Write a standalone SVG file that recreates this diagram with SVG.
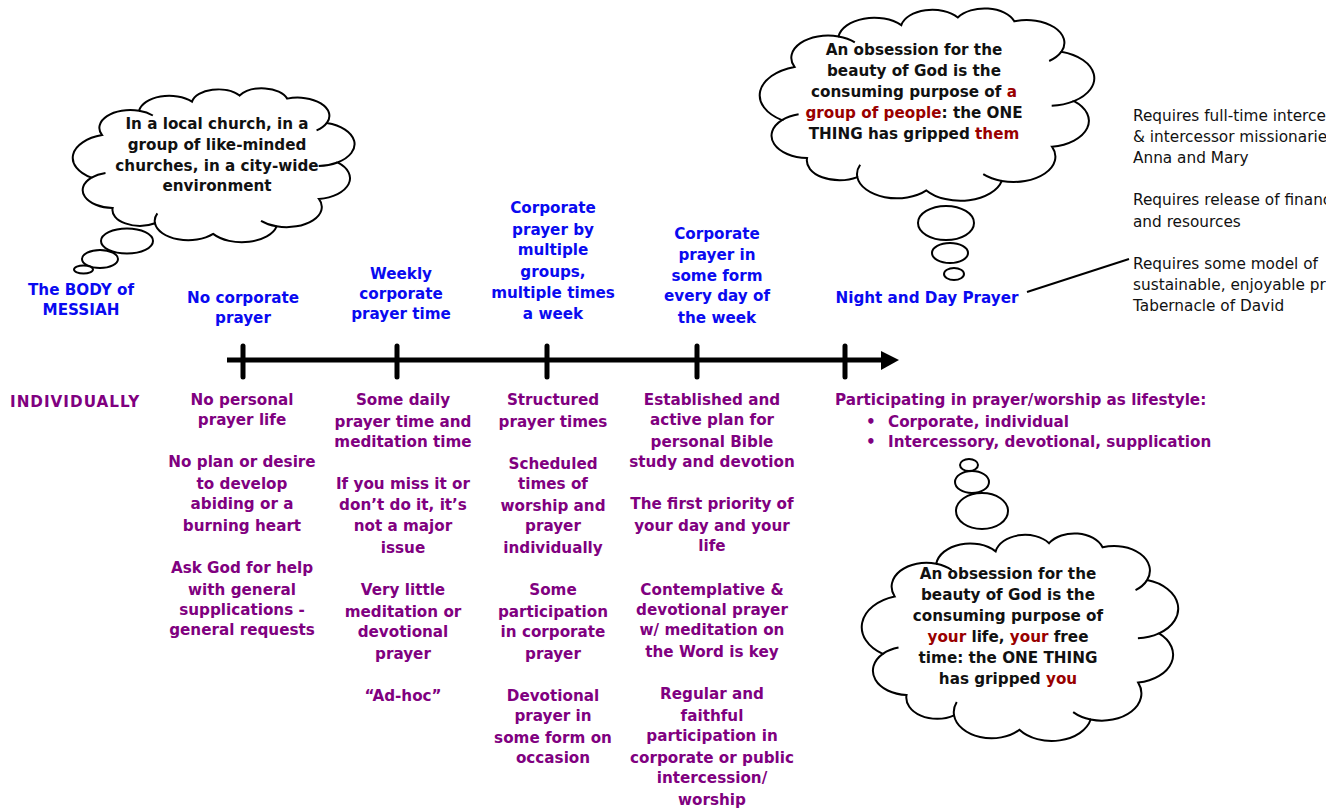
<svg xmlns="http://www.w3.org/2000/svg" xmlns:xlink="http://www.w3.org/1999/xlink" width="1342" height="809" viewBox="0 0 1342 809">
<style>
.b{font-family:"DejaVu Sans",Verdana,sans-serif;font-weight:bold;font-size:15.2px;text-anchor:middle}
.blue{fill:#0a0af0}
.pur{fill:#800080}
.blk{fill:#111}
.red{fill:#990000}
.reg{font-family:"DejaVu Sans",Verdana,sans-serif;font-size:15.3px;fill:#111}
.cl{fill:#fff;stroke:#000;stroke-width:2;vector-effect:non-scaling-stroke}
.cli{fill:none;stroke:#000;stroke-width:2;vector-effect:non-scaling-stroke}
.bub{fill:#fff;stroke:#000;stroke-width:2}
</style>
<defs>
<g id="cloud">
<path class="cl" d="M4,58 A15.6 15.6 0 0 1 8,30 A11.7 11.7 0 0 1 22,14 A11.5 11.5 0 0 1 42,8 A10.1 10.1 0 0 1 60,4 A10 10 0 0 1 78,6 A12 12 0 0 1 93,22 A14.5 14.5 0 0 1 97,48 A13.75 13.75 0 0 1 90,72 A13.3 13.3 0 0 1 74,90 A13.5 13.5 0 0 1 50,95 A12.7 12.7 0 0 1 28,88 A10.4 10.4 0 0 1 12,78 A11.8 11.8 0 0 1 4,58 Z"/>
<path class="cli" d="M22,14 A11.7 11.7 0 0 1 27.2,17.1 M4,58 A11.8 11.8 0 0 1 9.3,54.9 M93,22 A12 12 0 0 1 89.1,26.9 M74,90 A13.3 13.3 0 0 1 68.1,86.4 M28,88 A12.7 12.7 0 0 1 28.9,81.5 M97,48 A14.5 14.5 0 0 1 89.9,50.4"/>
</g>
<clipPath id="rc"><rect x="0" y="0" width="1326" height="809"/></clipPath>
</defs>
<rect width="1342" height="809" fill="#fff"/>

<g id="connectors">
<line x1="227" y1="360" x2="884" y2="360" stroke="#000" stroke-width="5"/>
<polygon points="881,351 899,360 881,370" fill="#000"/>
<g stroke="#000" stroke-width="5" stroke-linecap="round">
<line x1="243" y1="346" x2="243" y2="377"/>
<line x1="397" y1="346" x2="397" y2="377"/>
<line x1="547" y1="346" x2="547" y2="377"/>
<line x1="697" y1="346" x2="697" y2="377"/>
<line x1="845" y1="346" x2="845" y2="377"/>
</g>
<line x1="1027" y1="292" x2="1129" y2="259" stroke="#000" stroke-width="2"/>
</g>

<g id="cloud-local">
<use xlink:href="#cloud" href="#cloud" transform="translate(80.9 89.5) scale(2.645 1.52)"/>
<ellipse class="bub" cx="127" cy="241" rx="26" ry="12.5"/>
<ellipse class="bub" cx="100" cy="259" rx="18" ry="9"/>
<ellipse class="bub" cx="83.5" cy="269.5" rx="9.5" ry="4"/>
<text class="b blk" x="217"><tspan x="217" y="129">In a local church, in a</tspan><tspan x="217" y="150">group of like-minded</tspan><tspan x="217" y="171">churches, in a city-wide</tspan><tspan x="217" y="191">environment</tspan></text>
</g>

<g id="cloud-group">
<use xlink:href="#cloud" href="#cloud" transform="translate(769.4 9.9) scale(3.14 1.9)"/>
<ellipse class="bub" cx="946" cy="223" rx="28" ry="17"/>
<ellipse class="bub" cx="950" cy="253" rx="18" ry="10"/>
<ellipse class="bub" cx="954" cy="274" rx="10" ry="6"/>
<text class="b blk"><tspan x="914" y="55">An obsession for the</tspan><tspan x="914" y="76">beauty of God is the</tspan><tspan x="914" y="97">consuming purpose of <tspan class="red">a</tspan></tspan><tspan x="914" y="118"><tspan class="red">group of people</tspan>: the ONE</tspan><tspan x="914" y="139">THING has gripped <tspan class="red">them</tspan></tspan></text>
</g>

<g id="cloud-you">
<use xlink:href="#cloud" href="#cloud" transform="translate(870.9 535) scale(2.97 2.05)"/>
<ellipse class="bub" cx="982" cy="511" rx="26" ry="18"/>
<ellipse class="bub" cx="972" cy="482" rx="17" ry="11"/>
<ellipse class="bub" cx="969" cy="465" rx="9" ry="6"/>
<text class="b blk"><tspan x="1008" y="579">An obsession for the</tspan><tspan x="1008" y="600">beauty of God is the</tspan><tspan x="1008" y="621">consuming purpose of</tspan><tspan x="1008" y="642"><tspan class="red">your</tspan> life, <tspan class="red">your</tspan> free</tspan><tspan x="1008" y="663">time: the ONE THING</tspan><tspan x="1008" y="684">has gripped <tspan class="red">you</tspan></tspan></text>
</g>

<g id="label-body">
<text class="b blue"><tspan x="81" y="295">The BODY of</tspan><tspan x="81" y="315">MESSIAH</tspan></text>
</g>
<g id="label-none">
<text class="b blue"><tspan x="243" y="303">No corporate</tspan><tspan x="243" y="323">prayer</tspan></text>
</g>
<g id="label-weekly">
<text class="b blue"><tspan x="401" y="279">Weekly</tspan><tspan x="401" y="299">corporate</tspan><tspan x="401" y="319">prayer time</tspan></text>
</g>
<g id="label-multiple">
<text class="b blue"><tspan x="553" y="213">Corporate</tspan><tspan x="553" y="235">prayer by</tspan><tspan x="553" y="255">multiple</tspan><tspan x="553" y="277">groups,</tspan><tspan x="553" y="298">multiple times</tspan><tspan x="553" y="319">a week</tspan></text>
</g>
<g id="label-daily">
<text class="b blue"><tspan x="717" y="239">Corporate</tspan><tspan x="717" y="260">prayer in</tspan><tspan x="717" y="281">some form</tspan><tspan x="717" y="301">every day of</tspan><tspan x="717" y="323">the week</tspan></text>
</g>
<g id="label-night">
<text class="b blue" x="927" y="303">Night and Day Prayer</text>
</g>

<g id="requirements" clip-path="url(#rc)">
<text class="reg"><tspan x="1133" y="121">Requires full-time interces</tspan><tspan x="1133" y="142">&amp; intercessor missionaries</tspan><tspan x="1133" y="163">Anna and Mary</tspan><tspan x="1133" y="205">Requires release of financ</tspan><tspan x="1133" y="227">and resources</tspan><tspan x="1133" y="269">Requires some model of</tspan><tspan x="1133" y="290">sustainable, enjoyable pra</tspan><tspan x="1133" y="311">Tabernacle of David</tspan></text>
</g>

<g id="label-individually">
<text class="b pur" x="10" y="407" style="text-anchor:start;letter-spacing:1px">INDIVIDUALLY</text>
</g>

<g id="col-1">
<text class="b pur"><tspan x="242" y="405">No personal</tspan><tspan x="242" y="425">prayer life</tspan><tspan x="242" y="467">No plan or desire</tspan><tspan x="242" y="489">to develop</tspan><tspan x="242" y="509">abiding or a</tspan><tspan x="242" y="531">burning heart</tspan><tspan x="242" y="573">Ask God for help</tspan><tspan x="242" y="595">with general</tspan><tspan x="242" y="615">supplications -</tspan><tspan x="242" y="635">general requests</tspan></text>
</g>
<g id="col-2">
<text class="b pur"><tspan x="403" y="405">Some daily</tspan><tspan x="403" y="427">prayer time and</tspan><tspan x="403" y="447">meditation time</tspan><tspan x="403" y="489">If you miss it or</tspan><tspan x="403" y="510">don’t do it, it’s</tspan><tspan x="403" y="531">not a major</tspan><tspan x="403" y="553">issue</tspan><tspan x="403" y="595">Very little</tspan><tspan x="403" y="617">meditation or</tspan><tspan x="403" y="637">devotional</tspan><tspan x="403" y="659">prayer</tspan><tspan x="403" y="701">“Ad-hoc”</tspan></text>
</g>
<g id="col-3">
<text class="b pur"><tspan x="553" y="405">Structured</tspan><tspan x="553" y="427">prayer times</tspan><tspan x="553" y="469">Scheduled</tspan><tspan x="553" y="489">times of</tspan><tspan x="553" y="511">worship and</tspan><tspan x="553" y="531">prayer</tspan><tspan x="553" y="553">individually</tspan><tspan x="553" y="595">Some</tspan><tspan x="553" y="617">participation</tspan><tspan x="553" y="637">in corporate</tspan><tspan x="553" y="659">prayer</tspan><tspan x="553" y="701">Devotional</tspan><tspan x="553" y="721">prayer in</tspan><tspan x="553" y="743">some form on</tspan><tspan x="553" y="763">occasion</tspan></text>
</g>
<g id="col-4">
<text class="b pur"><tspan x="712" y="405">Established and</tspan><tspan x="712" y="425">active plan for</tspan><tspan x="712" y="447">personal Bible</tspan><tspan x="712" y="467">study and devotion</tspan><tspan x="712" y="509">The first priority of</tspan><tspan x="712" y="531">your day and your</tspan><tspan x="712" y="551">life</tspan><tspan x="712" y="595">Contemplative &amp;</tspan><tspan x="712" y="615">devotional prayer</tspan><tspan x="712" y="635">w/ meditation on</tspan><tspan x="712" y="657">the Word is key</tspan><tspan x="712" y="699">Regular  and</tspan><tspan x="712" y="721">faithful</tspan><tspan x="712" y="741">participation in</tspan><tspan x="712" y="763">corporate or public</tspan><tspan x="712" y="783">intercession/</tspan><tspan x="712" y="805">worship</tspan></text>
</g>
<g id="col-5">
<text class="b pur" style="text-anchor:start"><tspan x="835" y="405">Participating in prayer/worship as lifestyle:</tspan><tspan x="866" y="427">•</tspan><tspan x="888" y="427">Corporate, individual</tspan><tspan x="866" y="447">•</tspan><tspan x="888" y="447">Intercessory, devotional, supplication</tspan></text>
</g>
</svg>
